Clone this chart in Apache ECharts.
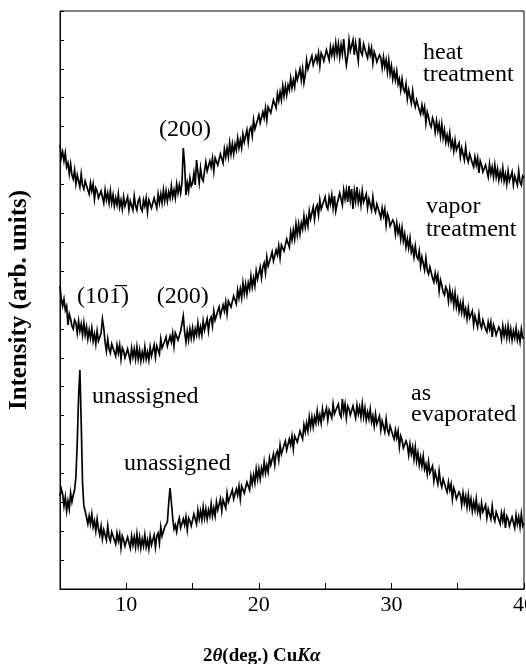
<!DOCTYPE html>
<html>
<head>
<meta charset="utf-8">
<script src="https://cdn.jsdelivr.net/npm/echarts@6/dist/echarts.min.js"></script>
<style>
  html, body { margin: 0; padding: 0; background: #fff; }
  #chart { width: 526px; height: 664px; }
</style>
</head>
<body>
<div id="chart"></div>
<script>
// 2theta sampling: 5.0 .. 40.0 deg, every 0.1 deg
const thetaStart = 5.0
const thetaStep = 0.1

// intensities (arb. units), one row per degree
const heatTreatment = [
  444,431,437,428,436,422,426,415,425,414,
  410,419,405,414,415,402,415,404,400,408,
  410,399,395,406,398,405,390,401,398,391,
  389,398,396,386,399,389,396,386,398,386,
  394,383,391,384,395,382,389,380,392,383,
  382,392,379,388,390,379,393,383,379,388,
  391,381,378,389,383,391,377,389,387,381,
  380,391,389,381,395,386,395,386,399,388,
  398,388,397,391,403,392,399,391,405,396,
  404,396,406,441,425,394,406,398,411,403,
  406,416,404,429,417,406,421,411,408,418,
  427,418,416,428,422,431,418,431,429,424,
  424,435,434,426,440,432,441,432,446,435,
  445,435,445,439,451,441,449,441,455,447,
  447,459,447,459,462,453,469,460,459,469,
  474,466,464,477,471,481,469,482,481,476,
  477,489,488,481,495,488,497,489,503,493,
  503,494,504,499,511,501,509,502,516,509,
  509,520,509,520,506,514,529,520,518,529,
  533,524,522,533,527,536,523,536,533,528,
  528,539,537,529,542,534,542,533,546,535,
  545,532,544,535,550,535,524,533,549,538,
  537,549,534,546,547,528,551,537,534,545,
  546,535,531,542,534,541,526,537,533,527,
  525,534,531,521,532,522,529,517,529,515,
  523,510,518,509,518,505,510,499,510,500,
  497,505,490,499,499,486,498,487,482,489,
  491,479,475,484,476,482,466,477,472,465,
  462,471,467,457,468,458,465,453,465,451,
  459,447,454,446,456,442,448,438,449,439,
  437,446,432,441,442,429,442,431,427,435,
  437,426,422,432,424,431,416,428,424,417,
  415,424,422,412,425,415,422,412,424,412,
  420,409,417,410,421,408,415,405,418,408,
  407,417,404,413,415,404,418,407,404,413,
  411
]

const vaporTreatment = [
  303,289,283,290,279,283,264,275,270,263,
  260,269,266,256,268,258,265,254,266,254,
  262,250,259,251,261,248,255,245,258,248,
  247,256,270,261,247,238,250,240,236,245,
  247,237,233,244,236,244,230,241,238,231,
  230,240,238,228,241,232,240,230,242,230,
  239,228,237,230,242,230,237,229,242,233,
  233,244,232,243,245,235,250,241,239,248,
  252,243,241,253,247,256,243,256,254,249,
  251,258,259,273,257,247,258,249,260,251,
  261,251,260,254,266,254,262,254,268,259,
  259,270,258,269,272,263,278,269,267,278,
  282,273,272,284,278,287,275,288,286,282,
  282,293,292,285,299,291,300,291,306,295,
  305,295,306,300,313,302,311,303,318,310,
  311,322,311,322,326,316,332,323,322,332,
  337,328,327,339,334,343,331,344,343,338,
  339,350,350,342,357,349,359,350,365,354,
  365,355,366,360,373,362,371,363,378,370,
  371,382,370,381,384,374,389,380,378,388,
  392,383,380,392,385,394,381,393,378,385,
  384,396,394,384,399,390,399,387,403,389,
  400,380,398,388,402,387,395,384,398,387,
  386,395,381,390,391,379,392,381,377,385,
  387,376,371,381,373,380,364,375,371,363,
  361,369,366,355,366,356,362,350,361,348,
  355,342,350,341,351,337,342,332,343,333,
  330,338,323,332,332,319,331,319,315,322,
  323,311,307,316,308,314,298,309,304,297,
  294,302,299,288,300,289,296,284,296,282,
  290,278,286,277,287,274,280,270,281,271,
  269,278,264,273,274,262,275,265,261,269,
  271,260,257,267,260,267,252,264,260,254,
  252,262,259,250,263,253,261,251,263,251,
  260,249,258,251,261,249,256,247,260,251,
  252
]

const asEvaporated = [
  93,100,95,83,92,78,88,80,96,87,
  94,99,112,146,192,219,166,106,83,78,
  77,65,73,65,75,62,68,58,70,60,
  54,63,50,59,61,49,63,52,48,57,
  59,49,45,56,48,55,41,53,49,43,
  42,52,50,41,53,44,52,42,55,43,
  52,41,50,43,54,42,49,40,53,44,
  43,54,42,53,56,46,62,53,52,62,
  60,67,86,101,87,71,60,64,57,66,
  71,61,59,70,64,72,59,71,68,63,
  65,75,74,65,79,70,78,69,82,71,
  80,70,79,73,85,73,81,73,87,79,
  79,90,78,89,91,81,96,87,85,95,
  99,90,88,100,94,103,90,103,101,96,
  96,107,106,99,113,105,114,106,120,110,
  120,110,121,115,127,116,124,117,131,124,
  124,135,124,135,138,129,144,135,134,144,
  148,139,137,150,144,153,140,153,152,147,
  147,158,158,150,164,157,166,158,172,162,
  172,162,172,166,178,167,174,166,180,171,
  171,181,169,179,181,171,185,175,173,182,
  185,175,172,190,177,185,171,183,180,174,
  173,183,181,171,184,175,182,172,185,172,
  181,169,177,170,180,167,173,163,175,165,
  164,173,159,168,169,157,170,159,155,163,
  165,154,150,159,151,158,142,153,149,141,
  139,148,144,134,145,135,142,130,142,128,
  136,124,132,123,133,120,125,115,127,116,
  114,123,108,117,118,105,118,107,102,110,
  112,101,97,107,99,105,90,101,97,90,
  88,97,94,84,96,86,93,82,94,82,
  90,78,87,79,90,77,83,74,86,77,
  75,84,71,80,81,70,83,72,68,77,
  79,69,65,76,68,76,61,73,70,63,
  62,72,70,61,74,65,72,62,75,63,
  66
]

// annotation lines, anchored (left or centre, middle) in data coordinates [2theta, intensity]
const notes = [
  { text: '(200)', at: [14.43, 459], align: 'center' },
  { text: 'heat', at: [32.38, 536], align: 'left' },
  { text: 'treatment', at: [32.38, 514], align: 'left' },
  { text: 'vapor', at: [32.6, 382], align: 'left' },
  { text: 'treatment', at: [32.6, 359], align: 'left' },
  { text: '(101\u0305)', at: [6.28, 292], align: 'left' },
  { text: '(200)', at: [12.3, 292], align: 'left' },
  { text: 'unassigned', at: [7.41, 192], align: 'left' },
  { text: 'unassigned', at: [9.83, 125], align: 'left' },
  { text: 'as', at: [31.48, 195], align: 'left' },
  { text: 'evaporated', at: [31.48, 174], align: 'left' }
]

function toPairs (values) {
  return values.map((v, i) => [+(thetaStart + i * thetaStep).toFixed(1), v])
}

const serif = 'Liberation Serif, DejaVu Serif, serif'
const chart = echarts.init(document.getElementById('chart'))

const lineSeries = (name, values) => ({
  name: name,
  type: 'line',
  data: toPairs(values),
  showSymbol: false,
  symbol: 'none',
  lineStyle: { color: '#000', width: 1.7, join: 'miter' },
  silent: true
})

const option = {
  animation: false,
  backgroundColor: '#fff',
  grid: {
    left: 60, right: 2, top: 11, bottom: 75,
    containLabel: false,
    outerBoundsMode: 'none',
    show: true, borderColor: '#000', borderWidth: 1
  },
  title: {
    left: 198, top: 642,
    text: '{b|2}{bi|θ}{b|(deg.) Cu}{bi|Kα}',
    textStyle: {
      rich: {
        b: { fontFamily: serif, fontWeight: 'bold', fontSize: 19, color: '#000' },
        bi: { fontFamily: serif, fontWeight: 'bold', fontStyle: 'italic', fontSize: 19, color: '#000' }
      }
    }
  },
  xAxis: {
    type: 'value',
    min: 5, max: 40, interval: 5,
    axisLine: { show: true, lineStyle: { color: '#000', width: 1 } },
    axisTick: { show: true, inside: true, length: 6, lineStyle: { color: '#000' } },
    axisLabel: {
      fontFamily: serif, fontSize: 22, color: '#000', margin: 5,
      formatter: v => (v % 10 === 0 ? String(v) : '')
    },
    splitLine: { show: false }
  },
  yAxis: {
    type: 'value',
    min: 0, max: 578, interval: 28.9,
    name: 'Intensity (arb. units)',
    nameLocation: 'middle',
    nameGap: 28,
    nameTextStyle: { fontFamily: serif, fontWeight: 'bold', fontSize: 25, color: '#000' },
    axisLine: { show: true, lineStyle: { color: '#000', width: 1 } },
    axisTick: { show: true, inside: true, length: 4, lineStyle: { color: '#000' } },
    axisLabel: { show: false },
    splitLine: { show: false }
  },
  series: [
    lineSeries('heat treatment', heatTreatment),
    lineSeries('vapor treatment', vaporTreatment),
    lineSeries('as evaporated', asEvaporated)
  ]
}
chart.setOption(option)

chart.setOption({
  graphic: notes.map(n => {
    const p = chart.convertToPixel({ gridIndex: 0 }, n.at)
    return {
      type: 'text',
      x: p[0], y: p[1],
      silent: true,
      style: {
        text: n.text,
        fill: '#000',
        font: '24px ' + serif,
        align: n.align,
        verticalAlign: 'middle'
      }
    }
  })
})
</script>
</body>
</html>
